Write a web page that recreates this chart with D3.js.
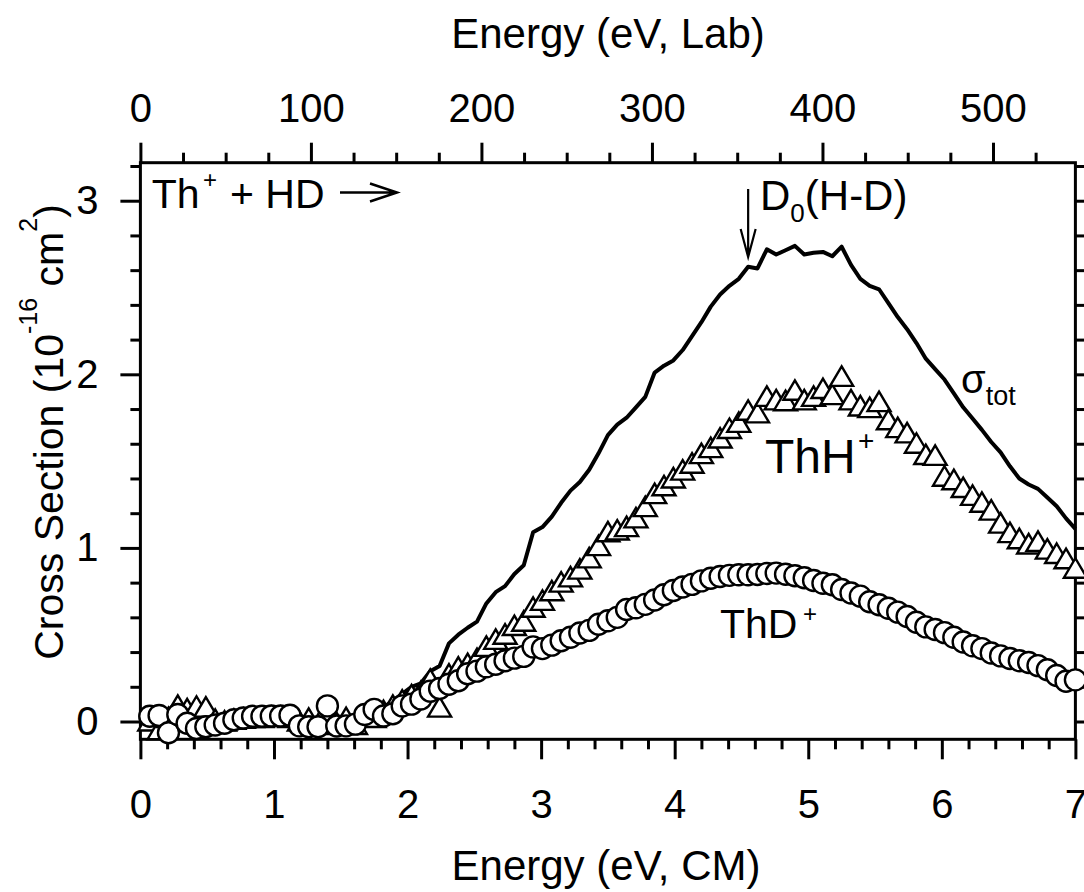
<!DOCTYPE html>
<html>
<head>
<meta charset="utf-8">
<title>Th+ + HD cross sections</title>
<style>
  body { margin: 0; padding: 0; background: #fff; }
  svg text { font-family: "Liberation Sans", Arial, sans-serif; fill: #000; }
</style>
</head>
<body>
<div id="chart"></div>
<script src="https://d3js.org/d3.v7.min.js"></script>
<script>
// energies (eV, CM) shared by the three series
var energyCM = [0.07, 0.14, 0.21, 0.28, 0.35, 0.42, 0.49, 0.56, 0.63, 0.70,
  0.77, 0.84, 0.91, 0.98, 1.05, 1.12, 1.19, 1.26, 1.33, 1.40,
  1.47, 1.54, 1.61, 1.68, 1.75, 1.82, 1.89, 1.96, 2.03, 2.10,
  2.17, 2.24, 2.31, 2.38, 2.45, 2.52, 2.59, 2.66, 2.73, 2.80,
  2.87, 2.94, 3.01, 3.08, 3.15, 3.22, 3.29, 3.36, 3.43, 3.50,
  3.57, 3.64, 3.71, 3.78, 3.85, 3.92, 3.99, 4.06, 4.13, 4.20,
  4.27, 4.34, 4.41, 4.48, 4.55, 4.62, 4.69, 4.76, 4.83, 4.90,
  4.97, 5.04, 5.11, 5.18, 5.25, 5.32, 5.39, 5.46, 5.53, 5.60,
  5.67, 5.74, 5.81, 5.88, 5.95, 6.02, 6.09, 6.16, 6.23, 6.30,
  6.37, 6.44, 6.51, 6.58, 6.65, 6.72, 6.79, 6.86, 6.93, 7.00];

// ThD+ (circles), 1e-16 cm2
var thdValues = [0.03, 0.035, -0.065, 0.04, -0.01, -0.04, -0.03, -0.02, -0.01, 0.01,
  0.02, 0.03, 0.03, 0.032, 0.032, 0.036, -0.025, -0.03, -0.03, 0.09,
  -0.026, -0.025, -0.015, 0.04, 0.07, 0.032, 0.045, 0.09, 0.10, 0.13,
  0.175, 0.19, 0.215, 0.235, 0.275, 0.29, 0.315, 0.33, 0.35, 0.365,
  0.375, 0.43, 0.42, 0.44, 0.465, 0.485, 0.51, 0.525, 0.56, 0.58,
  0.60, 0.645, 0.655, 0.675, 0.70, 0.73, 0.755, 0.775, 0.79, 0.81,
  0.825, 0.835, 0.842, 0.845, 0.845, 0.847, 0.853, 0.855, 0.848, 0.84,
  0.828, 0.812, 0.796, 0.788, 0.76, 0.74, 0.722, 0.69, 0.673, 0.652,
  0.63, 0.605, 0.572, 0.545, 0.53, 0.512, 0.485, 0.458, 0.436, 0.42,
  0.395, 0.378, 0.363, 0.35, 0.34, 0.322, 0.298, 0.265, 0.232, 0.24];

// ThH+ (triangles)
var thhValues = [0.0, -0.05, 0.02, 0.09, 0.07, 0.085, 0.08, 0.01, 0.0, 0.01,
  0.015, 0.02, 0.02, 0.025, 0.025, 0.02, 0.0, 0.015, -0.02, 0.0,
  -0.01, 0.02, -0.02, 0.03, 0.02, 0.06, 0.09, 0.12, 0.15, 0.17,
  0.24, 0.08, 0.27, 0.31, 0.33, 0.36, 0.43, 0.47, 0.50, 0.55,
  0.575, 0.655, 0.695, 0.75, 0.80, 0.83, 0.875, 0.94, 1.01, 1.09,
  1.10, 1.12, 1.17, 1.235, 1.31, 1.355, 1.40, 1.445, 1.485, 1.54,
  1.575, 1.63, 1.685, 1.72, 1.79, 1.775, 1.87, 1.85, 1.845, 1.905,
  1.85, 1.87, 1.915, 1.88, 1.985, 1.85, 1.815, 1.805, 1.84, 1.735,
  1.69, 1.66, 1.60, 1.535, 1.53, 1.41, 1.39, 1.345, 1.30, 1.26,
  1.215, 1.14, 1.085, 1.05, 1.02, 1.035, 0.99, 0.965, 0.935, 0.88];

// total cross section (line)
var totValues = [0.04, 0.0, -0.03, 0.06, 0.04, 0.03, 0.04, -0.01, -0.01, 0.02,
  0.03, 0.04, 0.05, 0.05, 0.055, 0.05, 0.0, -0.01, -0.04, 0.06,
  -0.03, -0.01, -0.03, 0.05, 0.07, 0.08, 0.12, 0.16, 0.20, 0.22,
  0.29, 0.32, 0.45, 0.50, 0.54, 0.575, 0.68, 0.745, 0.78, 0.85,
  0.90, 1.09, 1.12, 1.18, 1.26, 1.33, 1.38, 1.45, 1.545, 1.65,
  1.71, 1.75, 1.81, 1.87, 2.01, 2.05, 2.08, 2.14, 2.22, 2.30,
  2.39, 2.46, 2.51, 2.55, 2.62, 2.61, 2.72, 2.69, 2.715, 2.74,
  2.69, 2.70, 2.705, 2.68, 2.735, 2.63, 2.55, 2.51, 2.49, 2.41,
  2.33, 2.26, 2.18, 2.09, 2.03, 1.97, 1.89, 1.81, 1.745, 1.68,
  1.61, 1.55, 1.47, 1.40, 1.365, 1.34, 1.29, 1.24, 1.17, 1.11];

var cmTicks = [0, 1, 2, 3, 4, 5, 6, 7];
var labTicks = [0, 100, 200, 300, 400, 500];
var sectionTicks = [0, 1, 2, 3];
var labToCM = 3 / 235;      // m(HD) / (m(Th) + m(HD))
var d0Energy = 4.55;        // D0(H-D) marker position

var width = 1084, height = 892;
var plotLeft = 140.4, plotRight = 1075.4, plotTop = 162.7, plotBottom = 739.3;

var svg = d3.select("#chart").append("svg")
    .attr("width", width)
    .attr("height", height);

svg.append("rect").attr("width", width).attr("height", height).attr("fill", "#fff");

var x = d3.scaleLinear().domain([0, 7]).range([plotLeft, plotRight]);
var xLab = d3.scaleLinear().domain([0, 7 / labToCM]).range([plotLeft, plotRight]);
var y = d3.scaleLinear().domain([-0.1025, 3.219]).range([plotBottom, plotTop]);

// minor tick values
var cmMinor = d3.range(0, 7.001, 0.2).filter(function(v) { return Math.abs(v - Math.round(v)) > 0.01; });
var labMinor = d3.range(25, 7 / labToCM, 25).filter(function(v) { return v % 100 !== 0; });
var secMinor = d3.range(0.2, 3.21, 0.2).filter(function(v) { return Math.abs(v - Math.round(v)) > 0.01; });

function styleAxis(g) {
  g.select(".domain").remove();
  g.selectAll("line").attr("stroke", "#000").attr("stroke-width", 3);
  g.attr("font-family", "Liberation Sans, Arial, sans-serif").attr("font-size", 40);
  g.selectAll("text").attr("fill", "#000");
}

// bottom axis
svg.append("g").attr("transform", "translate(0," + plotBottom + ")")
  .call(d3.axisBottom(x).tickValues(cmTicks).tickSize(20).tickPadding(30).tickFormat(d3.format("d")))
  .call(styleAxis);
svg.append("g").attr("transform", "translate(0," + plotBottom + ")")
  .call(d3.axisBottom(x).tickValues(cmMinor).tickSize(10).tickFormat(""))
  .call(styleAxis);

// top axis (lab energy)
svg.append("g").attr("transform", "translate(0," + plotTop + ")")
  .call(d3.axisTop(xLab).tickValues(labTicks).tickSize(20).tickPadding(21).tickFormat(d3.format("d")))
  .call(styleAxis);
svg.append("g").attr("transform", "translate(0," + plotTop + ")")
  .call(d3.axisTop(xLab).tickValues(labMinor).tickSize(10).tickFormat(""))
  .call(styleAxis);

// left axis
svg.append("g").attr("transform", "translate(" + plotLeft + ",0)")
  .call(d3.axisLeft(y).tickValues(sectionTicks).tickSize(20).tickPadding(22).tickFormat(d3.format("d")))
  .call(styleAxis);
svg.append("g").attr("transform", "translate(" + plotLeft + ",0)")
  .call(d3.axisLeft(y).tickValues(secMinor).tickSize(10).tickFormat(""))
  .call(styleAxis);

// right axis
svg.append("g").attr("transform", "translate(" + plotRight + ",0)")
  .call(d3.axisRight(y).tickValues(sectionTicks).tickSize(20).tickFormat(""))
  .call(styleAxis);
svg.append("g").attr("transform", "translate(" + plotRight + ",0)")
  .call(d3.axisRight(y).tickValues(secMinor).tickSize(10).tickFormat(""))
  .call(styleAxis);

// frame
svg.append("rect")
  .attr("x", plotLeft).attr("y", plotTop)
  .attr("width", plotRight - plotLeft).attr("height", plotBottom - plotTop)
  .attr("fill", "none").attr("stroke", "#000").attr("stroke-width", 3);

// axis titles
svg.append("text").attr("x", 608).attr("y", 48)
  .attr("text-anchor", "middle").attr("font-size", 42)
  .text("Energy (eV, Lab)");
svg.append("text").attr("x", 606).attr("y", 880)
  .attr("text-anchor", "middle").attr("font-size", 42)
  .text("Energy (eV, CM)");

var yTitle = svg.append("text")
  .attr("transform", "translate(63,432) rotate(-90)")
  .attr("text-anchor", "middle").attr("font-size", 41);
yTitle.append("tspan").text("Cross Section (10");
yTitle.append("tspan").attr("font-size", 25).attr("dy", -26).text("-16");
yTitle.append("tspan").attr("font-size", 41).attr("dy", 26).text(" cm");
yTitle.append("tspan").attr("font-size", 25).attr("dy", -26).text("2");
yTitle.append("tspan").attr("font-size", 41).attr("dy", 26).text(")");

// total cross section line
var totLine = d3.line()
  .x(function(d, i) { return x(energyCM[i]); })
  .y(function(d) { return y(d); });

svg.append("path")
  .datum(totValues)
  .attr("d", totLine)
  .attr("fill", "none")
  .attr("stroke", "#000")
  .attr("stroke-width", 4)
  .attr("stroke-linejoin", "round");

// ThH+ triangles
svg.append("g").selectAll("path")
  .data(thhValues)
  .enter().append("path")
  .attr("d", "M0,-10.5L11.5,9L-11.5,9Z")
  .attr("transform", function(d, i) { return "translate(" + x(energyCM[i]) + "," + y(d) + ")"; })
  .attr("fill", "#fff")
  .attr("stroke", "#000")
  .attr("stroke-width", 2.4)
  .attr("stroke-linejoin", "miter");

// ThD+ circles
svg.append("g").selectAll("circle")
  .data(thdValues)
  .enter().append("circle")
  .attr("cx", function(d, i) { return x(energyCM[i]); })
  .attr("cy", function(d) { return y(d); })
  .attr("r", 10.5)
  .attr("fill", "#fff")
  .attr("stroke", "#000")
  .attr("stroke-width", 2.4);

// reaction label with arrow
svg.append("text").attr("x", 151.7).attr("y", 208).attr("font-size", 41).text("Th");
svg.append("text").attr("x", 203).attr("y", 188).attr("font-size", 24).text("+");
svg.append("text").attr("x", 230).attr("y", 208).attr("font-size", 41).text("+ HD");
svg.append("path")
  .attr("d", "M340,192.5H396M370,183.5L397,192.5L370,201.5")
  .attr("fill", "none").attr("stroke", "#000").attr("stroke-width", 2.5);

// D0(H-D) marker
var ax = x(d0Energy);
svg.append("path")
  .attr("d", "M" + ax + ",189V256M" + (ax - 7.5) + ",229L" + ax + ",257L" + (ax + 7.5) + ",229")
  .attr("fill", "none").attr("stroke", "#000").attr("stroke-width", 2.2);
var d0 = svg.append("text").attr("x", 760).attr("y", 210).attr("font-size", 42);
d0.append("tspan").text("D");
d0.append("tspan").attr("font-size", 26).attr("dy", 12).text("0");
d0.append("tspan").attr("font-size", 42).attr("dy", -12).text("(H-D)");

// series labels
var sig = svg.append("text").attr("x", 961).attr("y", 393).attr("font-size", 40);
sig.append("tspan").text("\u03c3");
sig.append("tspan").attr("font-size", 27).attr("dy", 12).text("tot");

svg.append("text").attr("x", 765).attr("y", 473).attr("font-size", 48).text("ThH");
svg.append("text").attr("x", 858).attr("y", 450).attr("font-size", 28).text("+");

svg.append("text").attr("x", 720).attr("y", 638).attr("font-size", 41).text("ThD");
svg.append("text").attr("x", 803).attr("y", 622).attr("font-size", 24).text("+");
</script>
</body>
</html>
